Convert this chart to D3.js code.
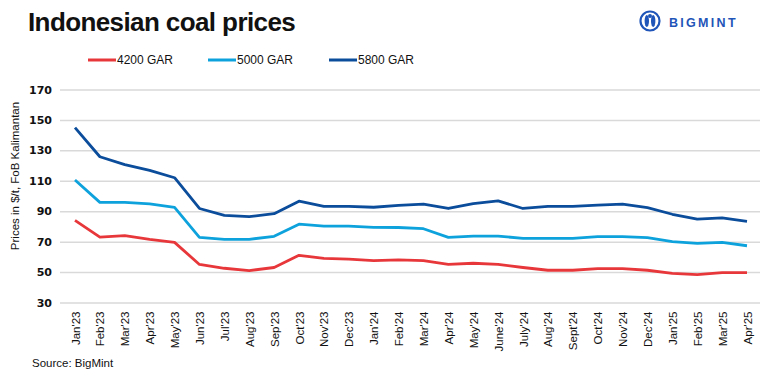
<!DOCTYPE html>
<html lang="en">
<head>
    <meta charset="UTF-8">
    <title>Indonesian coal prices</title>
    <script src="https://cdn.jsdelivr.net/npm/d3@7"></script>
    <style>
        body{
            margin: 0;
            background: white;
            font-family: "Liberation Sans", Arial, sans-serif;
        }
        .yAxis text{
            font-family: "DejaVu Sans", sans-serif;
            font-weight: bold;
            font-size: 11px;
            fill: #111;
        }
        .yAxis .tick line{
            stroke: #d9d9d9;
            stroke-width: 1.5;
        }
        .yAxis path, .xAxis path, .xAxis .tick line{
            stroke: none;
        }
        .xAxis text{
            font-size: 11.5px;
            fill: #111;
        }
    </style>
</head>
<body>
<svg id="main" width="769" height="380"></svg>
<script>
    const width = 769, height = 380;
    const margin = {top: 89.5, bottom: 77.5, left: 60, right: 9};

    // data
    const months = ["Jan'23","Feb'23","Mar'23","Apr'23","May'23","Jun'23","Jul'23","Aug'23","Sep'23","Oct'23","Nov'23","Dec'23",
        "Jan'24","Feb'24","Mar'24","Apr'24","May'24","June'24","July'24","Aug'24","Sept'24","Oct'24","Nov'24","Dec'24",
        "Jan'25","Feb'25","Mar'25","Apr'25"];
    const gar4200 = [84,73,74,71.5,69.5,55,52.5,51,53,61,59,58.5,57.5,58,57.5,55,55.8,55,53,51.2,51.2,52.3,52.3,51.2,49.2,48.3,49.6,49.6];
    const gar5000 = [110.5,95.8,95.8,94.8,92.5,72.8,71.5,71.5,73.5,81.5,80.2,80.2,79.4,79.3,78.5,72.8,73.6,73.6,72.2,72.2,72.2,73.3,73.3,72.6,70,68.9,69.5,67.3];
    const gar5800 = [145,125.8,120.6,116.8,112,91.8,87.3,86.4,88.4,96.6,93.2,93.2,92.6,93.8,94.6,91.8,95,96.8,91.8,93.2,93.2,94,94.6,92.3,88,84.8,85.6,83.3];
    const seriesNames = ["4200 GAR","5000 GAR","5800 GAR"];
    const colors = ["#e8373b","#0ea2dc","#0b4c9b"];
    const yTicks = [30,50,70,90,110,130,150,170];

    const allSeries = [gar4200, gar5000, gar5800];

    const svg = d3.select("svg#main");

    // title
    svg.append("text")
        .attr("x", 28).attr("y", 31)
        .attr("font-size", "26px")
        .attr("font-weight", "bold")
        .attr("letter-spacing", "-0.6")
        .attr("fill", "#111")
        .text("Indonesian coal prices");

    // logo
    const logo = svg.append("g").attr("transform", "translate(650,21)");
    logo.append("circle").attr("r", 9.5).attr("fill", "none").attr("stroke", "#1f55b8").attr("stroke-width", 2.2);
    logo.append("ellipse").attr("cx", -3.2).attr("cy", 0).attr("rx", 2.2).attr("ry", 6).attr("fill", "#1f55b8");
    logo.append("ellipse").attr("cx", 3.2).attr("cy", 0).attr("rx", 2.2).attr("ry", 6).attr("fill", "#1f55b8");
    logo.append("circle").attr("cx", 0).attr("cy", -5).attr("r", 2).attr("fill", "#1f55b8");
    svg.append("text")
        .attr("x", 669).attr("y", 27)
        .attr("font-size", "12.5px")
        .attr("font-weight", "bold")
        .attr("letter-spacing", "2.3")
        .attr("fill", "#1f55b8")
        .text("BIGMINT");

    // scales
    const xScale = d3.scalePoint()
        .domain(months)
        .range([75, 747]);
    const yScale = d3.scaleLinear()
        .domain([30, 170])
        .range([height - margin.bottom, margin.top]);

    // y axis with grid
    const yAxisGenerator = d3.axisLeft(yScale)
        .tickValues(yTicks)
        .tickSize(-(width - margin.left - margin.right))
        .tickPadding(8);
    svg.append("g")
        .attr("class", "yAxis")
        .attr("transform", `translate(${margin.left},0)`)
        .call(yAxisGenerator);

    // x axis, rotated labels
    const xAxisGroup = svg.append("g")
        .attr("class", "xAxis")
        .attr("transform", `translate(0,${height - margin.bottom})`)
        .call(d3.axisBottom(xScale).tickSize(0));
    xAxisGroup.selectAll("text")
        .attr("text-anchor", "end")
        .attr("transform", "rotate(-90)")
        .attr("x", -9)
        .attr("y", 0)
        .attr("dy", "0.35em");

    // y title
    svg.append("text")
        .attr("transform", `translate(19,176) rotate(-90)`)
        .attr("text-anchor", "middle")
        .attr("font-size", "11.5px")
        .attr("fill", "#111")
        .text("Prices in $/t, FoB Kalimantan");

    // lines
    const line = d3.line()
        .x((d, i) => xScale(months[i]))
        .y(d => yScale(d));

    svg.append("g").selectAll("path")
        .data(allSeries)
        .join("path")
        .attr("fill", "none")
        .attr("stroke", (d, i) => colors[i])
        .attr("stroke-width", 2.8)
        .attr("stroke-linejoin", "round")
        .attr("d", line);

    // legend
    const legendX = [88, 208, 329];
    const legends = svg.append("g")
        .selectAll(".legends")
        .data(seriesNames)
        .join("g")
        .attr("class", "legends")
        .attr("transform", (_, i) => `translate(${legendX[i]},60)`);
    legends.append("line")
        .attr("x1", 0).attr("x2", 28)
        .attr("stroke", (_, i) => colors[i])
        .attr("stroke-width", 3);
    legends.append("text")
        .attr("x", 29).attr("dy", "0.35em")
        .attr("font-size", "12px")
        .attr("fill", "#111")
        .text(d => d);

    // source
    svg.append("text")
        .attr("x", 32).attr("y", 367)
        .attr("font-size", "11.5px")
        .attr("fill", "#111")
        .text("Source: BigMint");
</script>
</body>
</html>
